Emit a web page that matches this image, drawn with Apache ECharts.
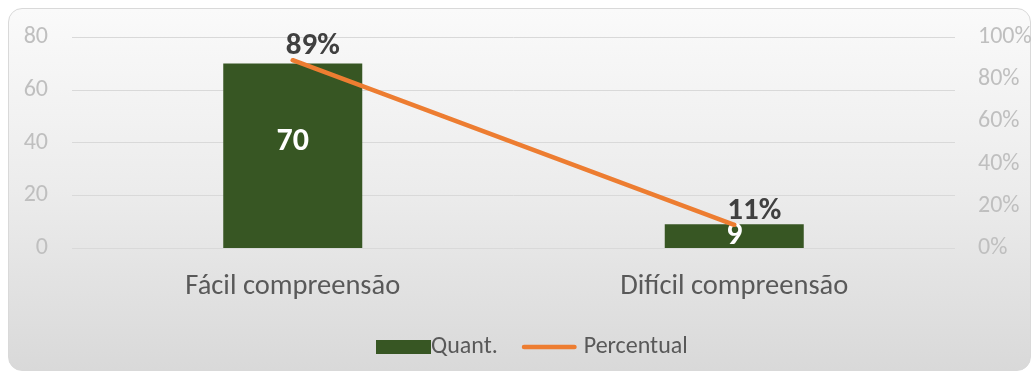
<!DOCTYPE html>
<html>
<head>
<meta charset="utf-8">
<script src="https://cdn.jsdelivr.net/npm/echarts@6/dist/echarts.min.js"></script>
<style>
  html, body { margin: 0; padding: 0; background: #ffffff; }
  #frame {
    position: absolute; left: 8px; top: 8px; width: 1021px; height: 361px;
    border: 1px solid #d9d9d9; border-radius: 14px;
    background: linear-gradient(to bottom, #fafafa 0%, #ececec 50%, #d9d9d9 100%);
  }
  #chart { position: absolute; left: 0; top: 0; width: 1036px; height: 376px; }
</style>
</head>
<body>
<div id="frame"></div>
<div id="chart"></div>
<script>
// Categories and values
const categories = ['Fácil compreensão', 'Difícil compreensão'];
const quantValues = [70, 9];
const percentValues = [89, 11];
const leftTicks = [0, 20, 40, 60, 80];
const rightTicks = [0, 20, 40, 60, 80, 100];

const font = 'Carlito, Calibri, "Open Sans", sans-serif';
const chart = echarts.init(document.getElementById('chart'), null, { renderer: 'canvas' });

// Tall bars get their value label nudged a little above centre
const barData = quantValues.map(v => ({
  value: v,
  label: { offset: [0, v > 40 ? -14 : 0] }
}));

chart.setOption({
  backgroundColor: 'transparent',
  textStyle: { fontFamily: font },
  grid: { left: 72, right: 81, top: 37, bottom: 128 },
  legend: {
    top: 330,
    left: 371,
    itemGap: 24,
    itemWidth: 55,
    itemHeight: 14,
    symbolKeepAspect: true,
    textStyle: { color: '#595959', fontSize: 24, fontFamily: font, padding: [0, 0, 0, -5] },
    data: [
      { name: 'Quant.', icon: 'rect' },
      {
        name: 'Percentual',
        icon: 'path://M2,0 L56,0 A2.5,2.5 0 0 1 56,5 L2,5 A2.5,2.5 0 0 1 2,0 Z',
        textStyle: { padding: [0, 0, 0, 2] }
      }
    ]
  },
  xAxis: {
    type: 'category',
    data: categories,
    axisLine: { show: false },
    axisTick: { show: false },
    axisLabel: { color: '#595959', fontSize: 28.5, margin: 24, fontFamily: font }
  },
  yAxis: [
    {
      type: 'value',
      min: leftTicks[0],
      max: leftTicks[leftTicks.length - 1],
      interval: 20,
      axisLabel: { color: '#bfbfbf', fontSize: 24, margin: 24, fontFamily: font },
      splitLine: { lineStyle: { color: '#d9d9d9', width: 1 } },
      axisLine: { show: false },
      axisTick: { show: false }
    },
    {
      type: 'value',
      min: rightTicks[0],
      max: rightTicks[rightTicks.length - 1],
      interval: 20,
      axisLabel: { color: '#bfbfbf', fontSize: 24, margin: 23, fontFamily: font, formatter: '{value}%' },
      splitLine: { show: false },
      axisLine: { show: false },
      axisTick: { show: false }
    }
  ],
  series: [
    {
      name: 'Quant.',
      type: 'bar',
      data: barData,
      barWidth: 139,
      itemStyle: { color: '#375623' },
      label: {
        show: true,
        position: 'inside',
        color: '#ffffff',
        fontSize: 32,
        fontWeight: 'bold',
        fontFamily: font
      }
    },
    {
      name: 'Percentual',
      type: 'line',
      yAxisIndex: 1,
      data: percentValues,
      symbol: 'circle',
      symbolSize: 4,
      showSymbol: true,
      lineStyle: { color: '#ed7d31', width: 4.5, cap: 'round' },
      itemStyle: { color: '#ed7d31' },
      label: {
        show: true,
        position: 'top',
        distance: 0,
        offset: [20, 4],
        color: '#404040',
        fontSize: 31,
        fontWeight: 'bold',
        fontFamily: font,
        formatter: '{c}%'
      },
      z: 3
    }
  ]
});
</script>
</body>
</html>
